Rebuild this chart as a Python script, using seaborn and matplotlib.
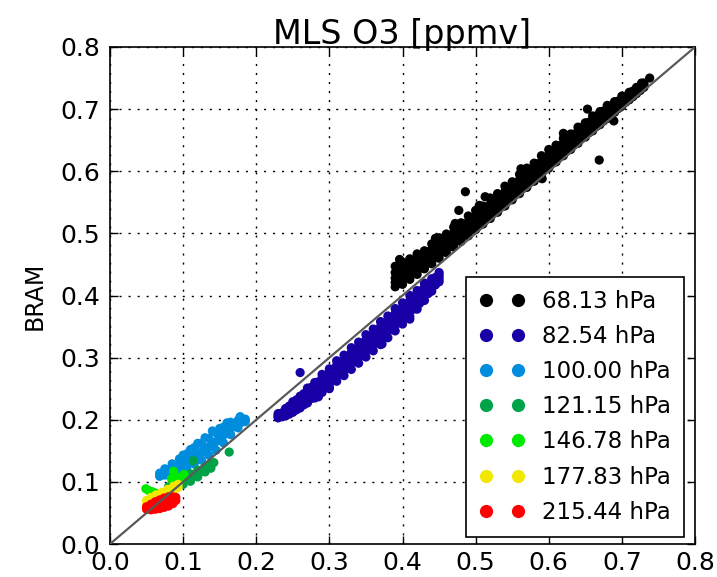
import numpy as np
import pandas as pd
import matplotlib
matplotlib.use("Agg")
import matplotlib.pyplot as plt
import seaborn as sns
from matplotlib.lines import Line2D

# Pressure levels shown in the legend
levels = ["68.13 hPa", "82.54 hPa", "100.00 hPa", "121.15 hPa",
          "146.78 hPa", "177.83 hPa", "215.44 hPa"]

ticks = [0.0, 0.1, 0.2, 0.3, 0.4, 0.5, 0.6, 0.7, 0.8]
tick_labels = ["0.0", "0.1", "0.2", "0.3", "0.4", "0.5", "0.6", "0.7", "0.8"]

# 68.13 hPa (MLS on x, BRAM on y): rows across the cloud, from its lower to its upper edge
black_x = [0.39, 0.40, 0.41, 0.42, 0.43, 0.44, 0.45, 0.46, 0.47, 0.48, 0.49, 0.50,
           0.51, 0.52, 0.53, 0.54, 0.55, 0.56, 0.57, 0.58, 0.59, 0.60, 0.61, 0.62,
           0.63, 0.64, 0.65, 0.66, 0.67, 0.68, 0.69, 0.70, 0.71, 0.72, 0.73]
black_lo = [0.414, 0.418, 0.426, 0.434, 0.443, 0.451, 0.460, 0.469, 0.478, 0.487,
            0.496, 0.506, 0.515, 0.524, 0.534, 0.544, 0.554, 0.564, 0.574, 0.584,
            0.595, 0.605, 0.615, 0.625, 0.635, 0.645, 0.655, 0.665, 0.675, 0.685,
            0.695, 0.705, 0.715, 0.725, 0.735]
black_c1 = [0.421, 0.426, 0.433, 0.441, 0.449, 0.458, 0.467, 0.475, 0.485, 0.493,
            0.503, 0.512, 0.521, 0.531, 0.540, 0.551, 0.560, 0.570, 0.580, 0.590,
            0.601, 0.611, 0.621, 0.631, 0.640, 0.650, 0.660, 0.670, 0.679, 0.689,
            0.698, 0.708, 0.717, 0.727, 0.736]
black_c = [0.428, 0.434, 0.440, 0.448, 0.456, 0.465, 0.474, 0.482, 0.492, 0.500,
           0.510, 0.519, 0.528, 0.538, 0.547, 0.558, 0.567, 0.577, 0.587, 0.597,
           0.608, 0.618, 0.627, 0.637, 0.646, 0.656, 0.665, 0.675, 0.684, 0.694,
           0.702, 0.712, 0.720, 0.730, 0.738]
black_c2 = [0.437, 0.444, 0.450, 0.457, 0.464, 0.474, 0.483, 0.490, 0.501, 0.508,
            0.519, 0.528, 0.536, 0.547, 0.555, 0.567, 0.575, 0.586, 0.596, 0.605,
            0.616, 0.626, 0.634, 0.645, 0.653, 0.663, 0.671, 0.682, 0.690, 0.700,
            0.707, 0.716, 0.723, 0.732, 0.740]
black_hi = [0.447, 0.454, 0.459, 0.467, 0.472, 0.483, 0.493, 0.499, 0.510, 0.517,
            0.528, 0.537, 0.544, 0.557, 0.564, 0.576, 0.583, 0.595, 0.605, 0.613,
            0.625, 0.635, 0.642, 0.653, 0.660, 0.671, 0.678, 0.689, 0.696, 0.706,
            0.712, 0.721, 0.727, 0.735, 0.742]
black_mid_x = [0.395, 0.405, 0.415, 0.425, 0.435, 0.445, 0.455, 0.465, 0.475, 0.485,
               0.495, 0.505, 0.515, 0.525, 0.535, 0.545, 0.555, 0.565, 0.575, 0.585,
               0.595, 0.605, 0.615, 0.625, 0.635, 0.645, 0.655, 0.665, 0.675, 0.685,
               0.695, 0.705, 0.715, 0.725]
black_q1 = [0.422, 0.429, 0.436, 0.444, 0.453, 0.461, 0.470, 0.479, 0.488, 0.497,
            0.507, 0.516, 0.525, 0.535, 0.545, 0.555, 0.564, 0.574, 0.584, 0.595,
            0.605, 0.615, 0.624, 0.634, 0.643, 0.653, 0.662, 0.672, 0.681, 0.691,
            0.701, 0.711, 0.720, 0.730]
black_mid = [0.429, 0.436, 0.443, 0.451, 0.460, 0.468, 0.477, 0.486, 0.495, 0.504,
             0.514, 0.523, 0.532, 0.542, 0.552, 0.562, 0.571, 0.581, 0.591, 0.602,
             0.612, 0.622, 0.631, 0.641, 0.650, 0.660, 0.669, 0.679, 0.688, 0.697,
             0.706, 0.715, 0.724, 0.733]
black_q3 = [0.439, 0.446, 0.453, 0.461, 0.470, 0.478, 0.487, 0.496, 0.505, 0.514,
            0.524, 0.533, 0.542, 0.552, 0.562, 0.572, 0.581, 0.591, 0.601, 0.612,
            0.622, 0.632, 0.641, 0.651, 0.660, 0.670, 0.679, 0.689, 0.697, 0.705,
            0.713, 0.720, 0.729, 0.737]
black_out_x = [0.653, 0.689, 0.669, 0.486, 0.477, 0.513, 0.472, 0.591, 0.738, 0.727,
               0.396, 0.445, 0.562, 0.620, 0.505]
black_out_y = [0.700, 0.681, 0.618, 0.567, 0.537, 0.559, 0.516, 0.588, 0.750, 0.742,
               0.458, 0.492, 0.604, 0.661, 0.545]

# 82.54 hPa
blue_x = [0.23, 0.24, 0.25, 0.26, 0.27, 0.28, 0.29, 0.30, 0.31, 0.32, 0.33, 0.34,
          0.35, 0.36, 0.37, 0.38, 0.39, 0.40, 0.41, 0.42, 0.43, 0.44, 0.45]
blue_lo = [0.203, 0.206, 0.212, 0.219, 0.227, 0.235, 0.244, 0.253, 0.262, 0.271,
           0.281, 0.291, 0.301, 0.311, 0.321, 0.332, 0.343, 0.354, 0.366, 0.378,
           0.392, 0.407, 0.422]
blue_c1 = [0.205, 0.209, 0.217, 0.225, 0.234, 0.242, 0.252, 0.261, 0.271, 0.280,
           0.291, 0.300, 0.311, 0.321, 0.331, 0.342, 0.353, 0.363, 0.375, 0.386,
           0.400, 0.413, 0.426]
blue_c = [0.206, 0.212, 0.221, 0.230, 0.240, 0.249, 0.260, 0.269, 0.280, 0.289,
          0.300, 0.309, 0.320, 0.330, 0.341, 0.351, 0.362, 0.372, 0.384, 0.394,
          0.407, 0.418, 0.430]
blue_c2 = [0.208, 0.215, 0.225, 0.234, 0.246, 0.255, 0.267, 0.276, 0.288, 0.297,
           0.308, 0.317, 0.329, 0.338, 0.350, 0.359, 0.371, 0.380, 0.392, 0.401,
           0.414, 0.423, 0.434]
blue_hi = [0.210, 0.218, 0.229, 0.238, 0.251, 0.260, 0.273, 0.282, 0.295, 0.304,
           0.316, 0.325, 0.337, 0.346, 0.358, 0.367, 0.379, 0.388, 0.400, 0.408,
           0.420, 0.427, 0.437]
blue_mid_x = [0.235, 0.245, 0.255, 0.265, 0.275, 0.285, 0.295, 0.305, 0.315, 0.325,
              0.335, 0.345, 0.355, 0.365, 0.375, 0.385, 0.395, 0.405, 0.415, 0.425,
              0.435, 0.445]
blue_q1 = [0.205, 0.209, 0.216, 0.224, 0.234, 0.243, 0.253, 0.263, 0.273, 0.283,
           0.294, 0.304, 0.314, 0.324, 0.335, 0.346, 0.356, 0.367, 0.378, 0.390,
           0.403, 0.417]
blue_mid = [0.209, 0.217, 0.226, 0.235, 0.245, 0.254, 0.264, 0.274, 0.284, 0.294,
            0.305, 0.315, 0.325, 0.335, 0.346, 0.357, 0.367, 0.378, 0.389, 0.401,
            0.412, 0.424]
blue_q3 = [0.211, 0.222, 0.232, 0.242, 0.252, 0.261, 0.271, 0.281, 0.291, 0.301,
           0.312, 0.322, 0.332, 0.342, 0.353, 0.364, 0.374, 0.385, 0.396, 0.407,
           0.418, 0.429]
blue_out_x = [0.260, 0.423, 0.285, 0.300, 0.372, 0.410]
blue_out_y = [0.276, 0.387, 0.237, 0.250, 0.322, 0.362]

# 100.00 hPa
lblue_x = [0.068, 0.075, 0.085, 0.095, 0.105, 0.115, 0.125, 0.135, 0.145, 0.155,
           0.165, 0.175, 0.185]
lblue_lo = [0.109, 0.111, 0.115, 0.119, 0.123, 0.129, 0.135, 0.143, 0.151, 0.163,
            0.176, 0.187, 0.197]
lblue_c = [0.111, 0.116, 0.122, 0.128, 0.134, 0.142, 0.148, 0.156, 0.165, 0.175,
           0.186, 0.193, 0.199]
lblue_hi = [0.114, 0.121, 0.129, 0.137, 0.145, 0.155, 0.162, 0.170, 0.179, 0.188,
            0.196, 0.199, 0.201]
lblue_mid_x = [0.072, 0.080, 0.090, 0.100, 0.110, 0.120, 0.130, 0.140, 0.150, 0.160,
               0.170, 0.180]
lblue_mid = [0.113, 0.119, 0.125, 0.131, 0.138, 0.145, 0.152, 0.161, 0.170, 0.181,
             0.190, 0.196]
lblue_out_x = [0.140, 0.160, 0.120, 0.178, 0.150, 0.100, 0.130, 0.110]
lblue_out_y = [0.182, 0.195, 0.162, 0.205, 0.186, 0.143, 0.171, 0.152]

# 121.15 hPa
green_x = [0.080, 0.090, 0.100, 0.110, 0.120, 0.130, 0.138]
green_lo = [0.088, 0.092, 0.096, 0.101, 0.108, 0.116, 0.122]
green_hi = [0.092, 0.099, 0.106, 0.113, 0.119, 0.124, 0.129]
green_mid_x = [0.085, 0.095, 0.105, 0.115, 0.125, 0.134]
green_mid = [0.094, 0.100, 0.104, 0.111, 0.117, 0.123]
green_out_x = [0.163, 0.114, 0.142]
green_out_y = [0.148, 0.134, 0.131]

# 146.78 hPa
lime_x = [0.049, 0.053, 0.058, 0.062, 0.084, 0.088, 0.092, 0.097, 0.087, 0.101]
lime_y = [0.089, 0.086, 0.084, 0.082, 0.105, 0.110, 0.107, 0.104, 0.117, 0.112]

# 177.83 hPa
yellow_x = [0.050, 0.056, 0.063, 0.071, 0.079, 0.087, 0.093]
yellow_lo = [0.063, 0.066, 0.071, 0.076, 0.081, 0.086, 0.091]
yellow_hi = [0.070, 0.075, 0.079, 0.083, 0.088, 0.093, 0.096]

# 215.44 hPa
red_x = [0.050, 0.056, 0.062, 0.068, 0.074, 0.080, 0.086, 0.090]
red_lo = [0.056, 0.055, 0.056, 0.057, 0.059, 0.061, 0.065, 0.070]
red_hi = [0.060, 0.064, 0.068, 0.071, 0.074, 0.076, 0.076, 0.075]
red_mid_x = [0.053, 0.059, 0.065, 0.071, 0.077, 0.083]
red_mid = [0.059, 0.061, 0.063, 0.065, 0.068, 0.070]

series = [
    [(black_x, black_lo), (black_x, black_c1), (black_x, black_c),
     (black_x, black_c2), (black_x, black_hi),
     (black_mid_x, black_q1), (black_mid_x, black_mid), (black_mid_x, black_q3),
     (black_out_x, black_out_y)],
    [(blue_x, blue_lo), (blue_x, blue_c1), (blue_x, blue_c),
     (blue_x, blue_c2), (blue_x, blue_hi),
     (blue_mid_x, blue_q1), (blue_mid_x, blue_mid), (blue_mid_x, blue_q3),
     (blue_out_x, blue_out_y)],
    [(lblue_x, lblue_lo), (lblue_x, lblue_c), (lblue_x, lblue_hi),
     (lblue_mid_x, lblue_mid), (lblue_out_x, lblue_out_y)],
    [(green_x, green_lo), (green_x, green_hi), (green_mid_x, green_mid),
     (green_out_x, green_out_y)],
    [(lime_x, lime_y)],
    [(yellow_x, yellow_lo), (yellow_x, yellow_hi)],
    [(red_x, red_lo), (red_x, red_hi), (red_mid_x, red_mid)],
]

frames = []
for level, parts in zip(levels, series):
    for xs, ys in parts:
        frames.append(pd.DataFrame({"MLS": xs, "BRAM": ys, "level": level}))
df = pd.concat(frames, ignore_index=True)

colors = [tuple(c) for c in plt.get_cmap("nipy_spectral")(np.linspace(0, 0.85, len(levels)))]

plt.rcParams["font.family"] = ["DejaVu Sans"]

fig = plt.figure(figsize=(7.17, 5.77), dpi=100)
fig.patch.set_facecolor("white")
ax = fig.add_axes([110 / 717, 1 - 544 / 577, 585 / 717, 497 / 577])

sns.scatterplot(data=df, x="MLS", y="BRAM", hue="level", hue_order=levels,
                palette=colors, s=44, linewidth=0, legend=False, ax=ax, zorder=2)

ax.plot([0, 0.8], [0, 0.8], color="0.35", lw=1.6, zorder=3)

ax.set_xlim(0, 0.8)
ax.set_ylim(0, 0.8)
ax.set_xticks(ticks)
ax.set_xticklabels(tick_labels)
ax.set_yticks(ticks)
ax.set_yticklabels(tick_labels)
ax.grid(True, color="k", linestyle=(0, (1.5, 5)), lw=1.0)
ax.set_axisbelow(True)
ax.tick_params(direction="in", top=True, right=True, length=6, width=1,
               labelsize=18)
ax.tick_params(axis="y", pad=7)
ax.tick_params(axis="x", pad=5)
for sp in ax.spines.values():
    sp.set_linewidth(1.2)
    sp.set_color("k")

ax.set_title("MLS O3 [ppmv]", fontsize=24, pad=2)
ax.set_xlabel("")
ax.set_ylabel("BRAM", fontsize=17, labelpad=10)

handles = [Line2D([], [], marker="o", ls="", color=c, markeredgewidth=0, markersize=9.5)
           for c in colors]
leg = ax.legend(handles, levels, loc="lower right", bbox_to_anchor=(0.981, 0.014),
                numpoints=2, fontsize=16.5, frameon=True, fancybox=False,
                edgecolor="k", framealpha=1, borderpad=0.58, handlelength=2.0,
                handletextpad=0.74, labelspacing=0.53, borderaxespad=0)
leg.get_frame().set_linewidth(1.2)

fig.savefig("out.png", dpi=100, facecolor="white")
